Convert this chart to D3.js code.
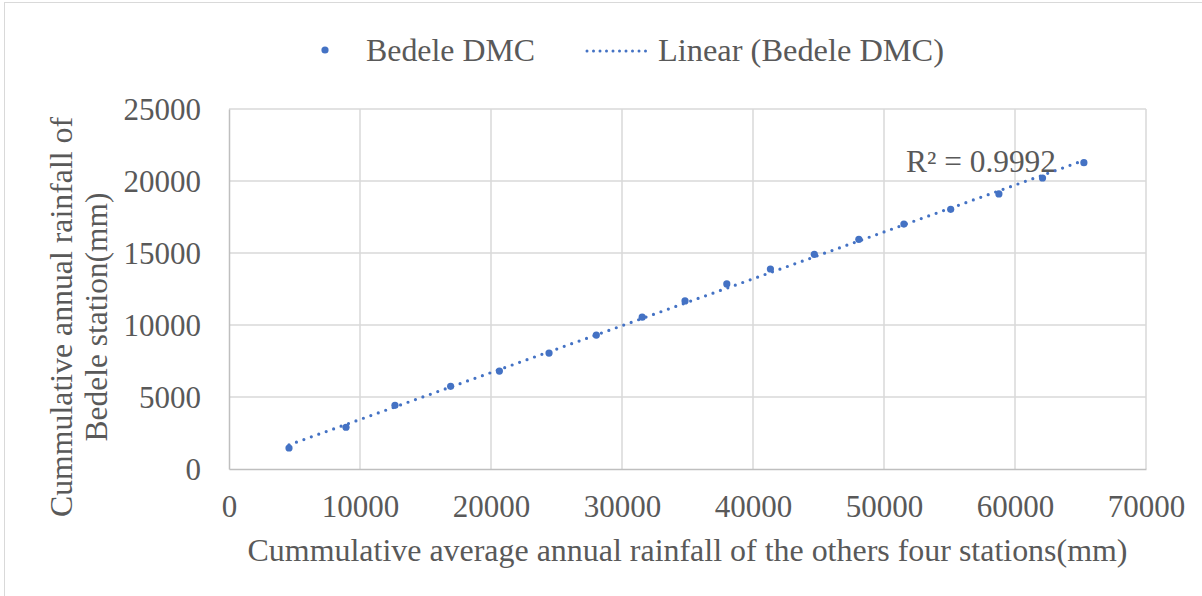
<!DOCTYPE html>
<html>
<head>
<meta charset="utf-8">
<script src="https://cdn.jsdelivr.net/npm/d3@7"></script>
<style>
  html, body { margin: 0; padding: 0; background: #ffffff; }
  svg { display: block; }
  text { font-family: "Liberation Serif", "Times New Roman", serif; fill: #595959; }
</style>
</head>
<body>
<svg id="chart" width="1202" height="596"></svg>
<script>
// Cumulative rainfall: average of the four other stations vs. Bedele station (mm)
const seriesName = "Bedele DMC";
const cumOthers = [4580, 8930, 12670, 16920, 20640, 24430, 28040, 31540, 34810,
                   38000, 41330, 44680, 48080, 51520, 55090, 58770, 62100, 65260];
const cumBedele = [1460, 2900, 4420, 5740, 6800, 8050, 9300, 10540, 11670,
                   12850, 13890, 14910, 15950, 17010, 18030, 19100, 20210, 21270];
const xTicks = [0, 10000, 20000, 30000, 40000, 50000, 60000, 70000];
const yTicks = [0, 5000, 10000, 15000, 20000, 25000];
const rSquaredLabel = "R² = 0.9992";
const xTitle = "Cummulative average annual rainfall of the others four stations(mm)";
const yTitleLines = ["Cummulative annual rainfall of", "Bedele station(mm)"];

const blue = "#4472c4";
const gridColor = "#d9d9d9";
const axisColor = "#bfbfbf";
const fontSize = "31px";

const svg = d3.select("#chart");

// outer chart frame
svg.append("rect")
  .attr("x", 4.5).attr("y", 2.5)
  .attr("width", 1202).attr("height", 600)
  .attr("fill", "none").attr("stroke", gridColor).attr("stroke-width", 1);

const plot = { left: 229, right: 1146, top: 109, bottom: 469 };

const x = d3.scaleLinear().domain([0, 70000]).range([plot.left, plot.right]);
const y = d3.scaleLinear().domain([0, 25000]).range([plot.bottom, plot.top]);

// gridlines
const grid = svg.append("g");
grid.selectAll("line.v").data(xTicks.slice(1)).join("line")
  .attr("x1", d => x(d)).attr("x2", d => x(d))
  .attr("y1", plot.top).attr("y2", plot.bottom)
  .attr("stroke", gridColor).attr("stroke-width", 1.5);
grid.selectAll("line.h").data(yTicks.slice(1)).join("line")
  .attr("x1", plot.left).attr("x2", plot.right)
  .attr("y1", d => y(d)).attr("y2", d => y(d))
  .attr("stroke", gridColor).attr("stroke-width", 1.5);

// axes
const xAxis = svg.append("g")
  .attr("transform", `translate(0,${plot.bottom})`)
  .call(d3.axisBottom(x).tickValues(xTicks).tickSize(0).tickPadding(26).tickFormat(d3.format("d")));
const yAxis = svg.append("g")
  .attr("transform", `translate(${plot.left},0)`)
  .call(d3.axisLeft(y).tickValues(yTicks).tickSize(0).tickPadding(28).tickFormat(d3.format("d")));
[xAxis, yAxis].forEach(a => {
  a.select(".domain").attr("stroke", axisColor).attr("stroke-width", 1.5);
  a.selectAll("text")
    .style("font-family", '"Liberation Serif", "Times New Roman", serif')
    .style("font-size", fontSize).attr("fill", "#595959");
});
xAxis.selectAll("text").attr("dy", "0.71em");
yAxis.selectAll("text").attr("dy", "0.33em");

// linear trendline (least squares), drawn across the x-range of the data
const n = cumOthers.length;
const mx = d3.mean(cumOthers), my = d3.mean(cumBedele);
let sxy = 0, sxx = 0;
for (let i = 0; i < n; i++) {
  sxy += (cumOthers[i] - mx) * (cumBedele[i] - my);
  sxx += (cumOthers[i] - mx) ** 2;
}
const slope = sxy / sxx, intercept = my - slope * mx;
const xExt = d3.extent(cumOthers);
svg.append("path")
  .datum(xExt.map(v => [v, intercept + slope * v]))
  .attr("d", d3.line().x(d => x(d[0])).y(d => y(d[1])))
  .attr("fill", "none").attr("stroke", blue).attr("stroke-width", 3.2)
  .attr("stroke-linecap", "round").attr("stroke-dasharray", "0 7.9");

// data points
svg.append("g").selectAll("circle")
  .data(cumOthers.map((v, i) => [v, cumBedele[i]]))
  .join("circle")
  .attr("cx", d => x(d[0])).attr("cy", d => y(d[1]))
  .attr("r", 3.6).attr("fill", blue);

// R² label
svg.append("text")
  .attr("x", 906).attr("y", 172)
  .style("font-size", fontSize)
  .attr("textLength", 150).attr("lengthAdjust", "spacingAndGlyphs")
  .text(rSquaredLabel);

// axis titles
svg.append("text")
  .attr("x", (plot.left + plot.right) / 2).attr("y", 561)
  .attr("text-anchor", "middle")
  .style("font-size", fontSize)
  .attr("textLength", 880).attr("lengthAdjust", "spacingAndGlyphs")
  .text(xTitle);

const yt = svg.append("g").attr("transform", "translate(0,317) rotate(-90)");
yt.append("text").attr("x", 0).attr("y", 72).attr("text-anchor", "middle")
  .style("font-size", fontSize)
  .attr("textLength", 400).attr("lengthAdjust", "spacingAndGlyphs")
  .text(yTitleLines[0]);
yt.append("text").attr("x", 0).attr("y", 107).attr("text-anchor", "middle")
  .style("font-size", fontSize)
  .attr("textLength", 249).attr("lengthAdjust", "spacingAndGlyphs")
  .text(yTitleLines[1]);

// legend
const legend = svg.append("g");
legend.append("circle").attr("cx", 325).attr("cy", 50).attr("r", 3.6).attr("fill", blue);
legend.append("text").attr("x", 366).attr("y", 61).style("font-size", fontSize)
  .attr("textLength", 169).attr("lengthAdjust", "spacingAndGlyphs")
  .text(seriesName);
legend.append("line").attr("x1", 587).attr("x2", 652).attr("y1", 51).attr("y2", 51)
  .attr("stroke", blue).attr("stroke-width", 3).attr("stroke-linecap", "round")
  .attr("stroke-dasharray", "0 6.5");
legend.append("text").attr("x", 658).attr("y", 61).style("font-size", fontSize)
  .attr("textLength", 286).attr("lengthAdjust", "spacingAndGlyphs")
  .text(`Linear (${seriesName})`);
</script>
</body>
</html>
